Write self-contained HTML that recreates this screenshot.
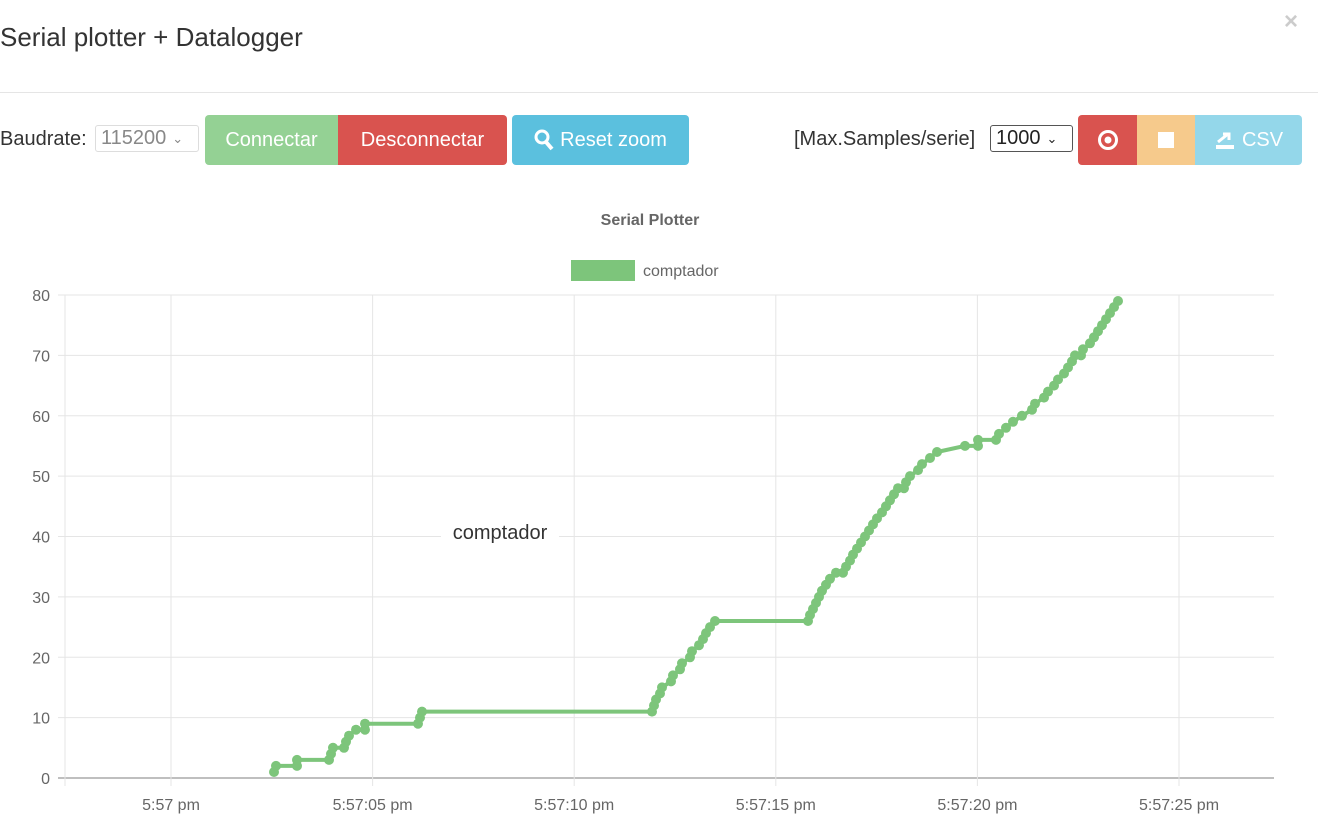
<!DOCTYPE html>
<html><head><meta charset="utf-8"><style>
body{margin:0;width:1318px;height:834px;background:#fff;font-family:"Liberation Sans",sans-serif;position:relative;overflow:hidden;color:#333}
.abs{position:absolute}
.btn{position:absolute;top:115px;height:50px;color:#fff;font-size:20px;display:flex;align-items:center;justify-content:center;box-sizing:border-box}
.sel{position:absolute;border:1px solid #ccc;border-radius:3px;box-sizing:border-box;display:flex;align-items:center;padding-left:5px}
</style></head><body>
<div class="abs" style="left:0;top:22px;font-size:26px;color:#333">Serial plotter + Datalogger</div>
<div class="abs" style="left:1284px;top:8px;font-size:24px;color:#ccc;font-weight:bold">×</div>
<div class="abs" style="left:0;top:92px;width:1318px;height:1px;background:#e5e5e5"></div>
<div class="abs" style="left:0;top:128px;font-size:20px">Baudrate:</div>
<div class="sel" style="left:95px;top:125px;width:104px;height:27px;font-size:20px;color:#888;border-color:#ddd">115200 <span style="font-size:13px;margin-left:6px">&#8964;</span></div>
<div class="btn" style="left:205px;width:133px;background:#94d194;border-radius:4px 0 0 4px">Connectar</div>
<div class="btn" style="left:338px;width:169px;background:#d9534f;border-radius:0 4px 4px 0">Desconnectar</div>
<div class="btn" style="left:512px;width:177px;background:#5bc0de;border-radius:4px"><svg width="20" height="22" viewBox="0 0 20 22" style="margin-right:6px"><circle cx="8" cy="8" r="6" fill="none" stroke="#fff" stroke-width="3"/><line x1="12" y1="13" x2="18" y2="20" stroke="#fff" stroke-width="4"/></svg>Reset zoom</div>
<div class="abs" style="left:794px;top:128px;font-size:20px">[Max.Samples/serie]</div>
<div class="sel" style="left:990px;top:125px;width:83px;height:27px;font-size:20px;color:#222;border-color:#555">1000 <span style="font-size:13px;margin-left:6px">&#8964;</span></div>
<div class="btn" style="left:1078px;width:59px;background:#d9534f;border-radius:4px 0 0 4px"><svg width="22" height="22"><circle cx="11" cy="11" r="8.5" fill="none" stroke="#fff" stroke-width="3"/><circle cx="11" cy="11" r="3.5" fill="#fff"/></svg></div>
<div class="btn" style="left:1137px;width:58px;background:#f6ca8c"><div style="width:16px;height:16px;background:#fff"></div></div>
<div class="btn" style="left:1195px;width:107px;background:#94d7ea;border-radius:0 4px 4px 0"><svg width="22" height="20" style="margin-right:6px"><rect x="2" y="15" width="18" height="4" fill="#fff"/><path d="M4 12 L14 4 M9 4 H15 V10" stroke="#fff" stroke-width="3" fill="none"/></svg>CSV</div>
<svg id="c" class="abs" style="left:0;top:0" width="1318" height="834"></svg>
<script>
var s='';
s+='<text x="650" y="225" text-anchor="middle" font-size="16" font-weight="bold" fill="#666" font-family="Liberation Sans">Serial Plotter</text>';
s+='<rect x="571" y="260" width="64" height="21" fill="#7dc57b"/><text x="643" y="276" font-size="16" fill="#666" font-family="Liberation Sans">comptador</text>';
function Y(v){return 778-v*6.0375;}
for(var v=0;v<=80;v+=10){var y=Y(v);s+='<line x1="58" x2="1274" y1="'+y+'" y2="'+y+'" stroke="'+(v==0?'#aaa':'#e5e5e5')+'" stroke-width="'+(v==0?1.5:1)+'"/>';s+='<text x="50" y="'+(y+6)+'" text-anchor="end" font-size="16" fill="#666" font-family="Liberation Sans">'+v+'</text>';}
var xl=['5:57 pm','5:57:05 pm','5:57:10 pm','5:57:15 pm','5:57:20 pm','5:57:25 pm'];
s+='<line x1="65" x2="65" y1="295" y2="786" stroke="#e5e5e5"/>';
for(var i=0;i<6;i++){var x=171+i*201.6;s+='<line x1="'+x+'" x2="'+x+'" y1="295" y2="786" stroke="#e5e5e5"/>';s+='<text x="'+x+'" y="810" text-anchor="middle" font-size="16" fill="#666" font-family="Liberation Sans">'+xl[i]+'</text>';}
var a=[[274,1],[276,2],[297,2],[297,3],[329,3],[331,4],[333,5],[344,5],[346,6],[349,7],[356,8],[365,8],[365,9],[418,9],[420,10],[422,11],[652,11],[654,12],[656,13],[660,14],[662,15],[671,16],[673,17],[680,18],[682,19],[690,20],[692,21],[699,22],[703,23],[706,24],[710,25],[715,26],[808,26],[810,27],[813,28],[816,29],[819,30],[822,31],[826,32],[830,33],[836,34],[843,34],[846,35],[850,36],[853,37],[857,38],[861,39],[865,40],[869,41],[873,42],[877,43],[882,44],[886,45],[890,46],[894,47],[898,48],[904,48],[906,49],[910,50],[918,51],[922,52],[930,53],[937,54],[965,55],[978,55],[978,56],[996,56],[999,57],[1006,58],[1013,59],[1022,60],[1032,61],[1035,62],[1044,63],[1048,64],[1054,65],[1058,66],[1064,67],[1068,68],[1072,69],[1075,70],[1081,70],[1083,71],[1090,72],[1094,73],[1098,74],[1102,75],[1106,76],[1110,77],[1114,78],[1118,79]];
var p=a.map(function(q){return q[0]+','+Y(q[1]).toFixed(1)}).join(' ');
s+='<polyline points="'+p+'" fill="none" stroke="#7dc57b" stroke-width="4"/>';
a.forEach(function(q){s+='<circle cx="'+q[0]+'" cy="'+Y(q[1]).toFixed(1)+'" r="5" fill="#7dc57b"/>';});
s+='<rect x="441" y="518" width="118" height="28" fill="#fff"/><text x="500" y="539" text-anchor="middle" font-size="20" fill="#333" font-family="Liberation Sans">comptador</text>';
document.getElementById('c').innerHTML=s;
</script>
</body></html>
